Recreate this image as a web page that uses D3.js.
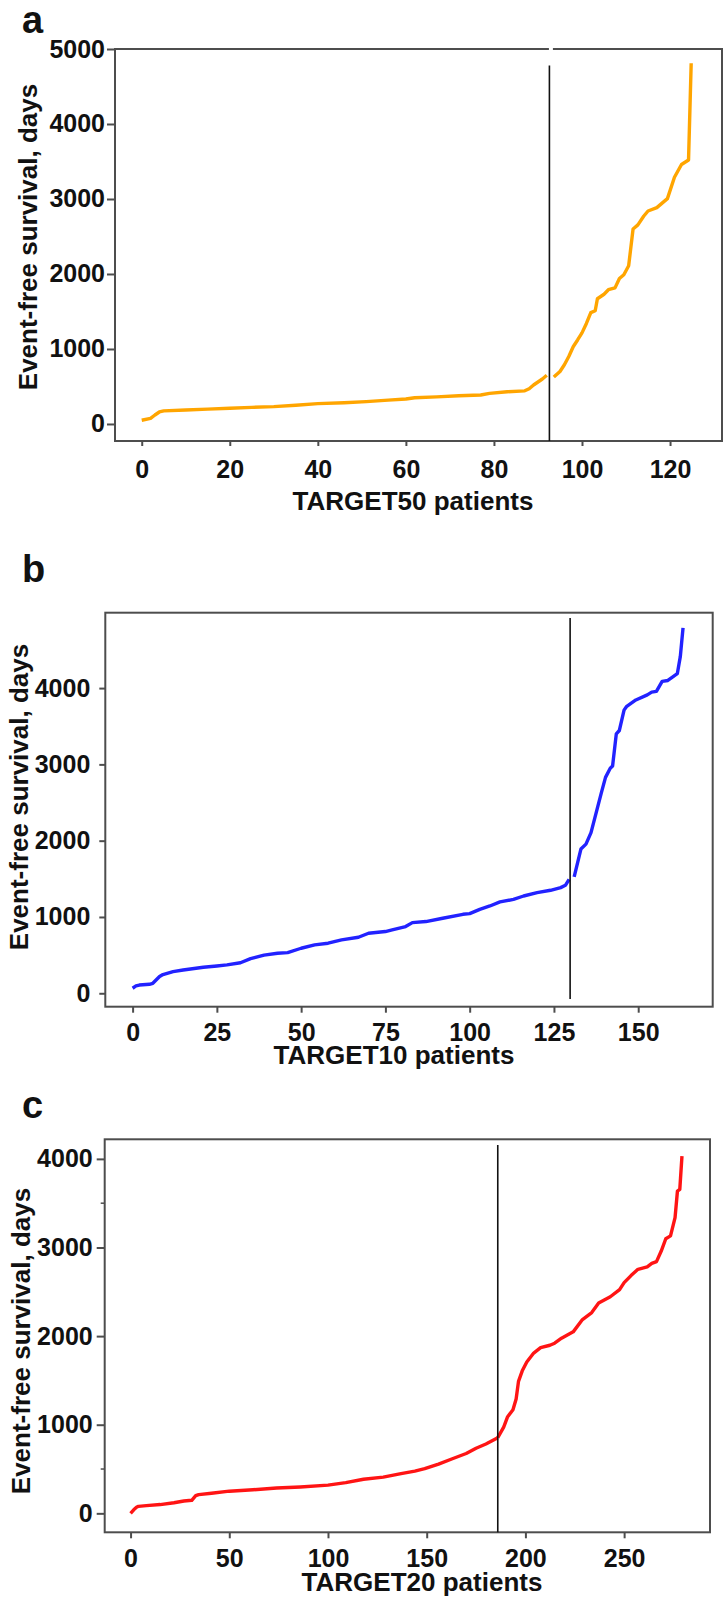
<!DOCTYPE html>
<html>
<head>
<meta charset="utf-8">
<script src="https://cdn.jsdelivr.net/npm/d3@7"></script>
<style>
    body { margin: 0; background: #fff; }
    svg text { font-family: "Liberation Sans", Arial, sans-serif; font-weight: bold; fill: #111; }
</style>
</head>
<body>
<svg id="figure" width="725" height="1603"></svg>
<script>
(function () {
    'use strict';

    // sorted event-free survival per cohort, [patient rank, days]
    // low = below the cut, high = above it
    const target50Low = [[0, 50], [2, 75], [3, 120], [4, 160], [5, 175], [10, 187], [15, 198], [20, 210],
        [25, 222], [30, 232], [35, 250], [40, 272], [46, 284], [51, 298], [56, 318], [60, 333], [62, 350],
        [67, 362], [72, 376], [77, 387], [79, 408], [83, 430], [87, 442], [88, 470], [89, 520], [90, 560],
        [91, 600], [92, 650]];
    const target50High = [[93.6, 625], [95, 700], [96, 790], [97, 900], [98, 1030], [99, 1120], [100, 1215],
        [101, 1340], [102, 1485], [103, 1510], [103.5, 1670], [105, 1730], [106, 1790], [107.5, 1815],
        [108.5, 1940], [109.5, 1990], [110.6, 2110], [111.6, 2600], [112.7, 2655], [114, 2770], [115, 2840],
        [117, 2885], [119.4, 3005], [121, 3290], [122.6, 3460], [124.2, 3520], [124.8, 4810]];

    const target10Low = [[0, 66], [1, 96], [2, 108], [5, 118], [6, 131], [8, 219], [9, 245], [12, 284],
        [15, 305], [21, 341], [25, 358], [28, 372], [32, 400], [35, 455], [39, 500], [43, 525], [46, 533],
        [50, 590], [54, 634], [58, 656], [62, 700], [67, 734], [70, 787], [75, 809], [77, 830], [81, 874],
        [83, 926], [87, 940], [92, 983], [98, 1035], [100, 1044], [103, 1100], [106, 1144], [109, 1197],
        [113, 1231], [116, 1275], [120, 1319], [124, 1350], [127, 1385], [128.4, 1415], [129.5, 1494]];
    const target10High = [[131, 1525], [133, 1890], [134.5, 1955], [136, 2105], [138, 2447], [139, 2617],
        [140.3, 2830], [141.7, 2949], [142.4, 2979], [143.5, 3400], [144.4, 3444], [145.8, 3711],
        [146.5, 3756], [149.3, 3844], [152.7, 3911], [154, 3947], [155.4, 3956], [157.1, 4088],
        [158.8, 4100], [161.6, 4188], [162.5, 4416], [163.3, 4788]];

    const target20Low = [[0, 0], [1.6, 40], [3, 68], [4, 79], [8, 87], [15, 99], [22, 119], [27, 139],
        [31, 147], [33, 199], [34.5, 211], [41, 226], [50, 250], [62, 266], [74, 286], [86, 298], [100, 318],
        [109, 346], [118, 385], [128, 409], [137, 449], [144, 477], [149, 504], [156, 556], [163, 616],
        [170, 675], [175, 735], [180, 783], [186, 854]];
    const target20High = [[186, 854], [189, 972], [191, 1091], [193.7, 1170], [195.3, 1290], [196.5, 1489],
        [198.4, 1608], [200.7, 1708], [204.2, 1809], [207.7, 1869], [212.4, 1897], [214.8, 1920],
        [218.3, 1976], [224.2, 2048], [228.9, 2187], [233.6, 2266], [237.1, 2373], [243, 2444],
        [247.7, 2524], [250, 2603], [253.5, 2683], [257, 2754], [261.7, 2782], [264, 2821], [266.4, 2841],
        [268.8, 2960], [271.1, 3099], [273.5, 3131], [275.8, 3337], [277, 3635], [278.2, 3655], [279.3, 4032]];

    // cut positions (patient rank) and axis ticks
    const cutoffs = { a: 92.6, b: 129.8, c: 186 };
    const xTicksA = [0, 20, 40, 60, 80, 100, 120];
    const xTicksB = [0, 25, 50, 75, 100, 125, 150];
    const xTicksC = [0, 50, 100, 150, 200, 250];
    const yTicksA = [0, 1000, 2000, 3000, 4000, 5000];
    const yTicksB = [0, 1000, 2000, 3000, 4000];
    const yTicksC = [0, 1000, 2000, 3000, 4000];
    const yMinorC = [500, 3500];

    const panels = [
        {
            label: 'a', title: 'TARGET50 patients', color: '#ffa500',
            low: target50Low, high: target50High, cut: cutoffs.a, cutTop: 4780, cutBottom: null, gapTop: true,
            xTicks: xTicksA, yTicks: yTicksA, yMinor: [],
            box: { left: 115, top: 49, right: 722, bottom: 441 },
            xDomain: [-6.07, 131.8], yDomain: [-227, 5000],
            xTickLen: 5, xTickPad: 14, yTickLen: 8, yTickPad: 2,
            labelY: 33, titleX: 413, titleY: 510, yTitleX: 37, yTitleY: 237
        },
        {
            label: 'b', title: 'TARGET10 patients', color: '#2222ff',
            low: target10Low, high: target10High, cut: cutoffs.b, cutTop: 4920, cutBottom: -75, gapTop: false,
            xTicks: xTicksB, yTicks: yTicksB, yMinor: [],
            box: { left: 105.3, top: 612.7, right: 712.7, bottom: 1006.7 },
            xDomain: [-8.1, 172.1], yDomain: [-176, 4988],
            xTickLen: 6, xTickPad: 11, yTickLen: 6, yTickPad: 9,
            labelY: 582, titleX: 394, titleY: 1064, yTitleX: 28, yTitleY: 797
        },
        {
            label: 'c', title: 'TARGET20 patients', color: '#ff1414',
            low: target20Low, high: target20High, cut: cutoffs.c, cutTop: 4157, cutBottom: null, gapTop: false,
            xTicks: xTicksC, yTicks: yTicksC, yMinor: yMinorC,
            box: { left: 104.7, top: 1139.3, right: 710, bottom: 1532.3 },
            xDomain: [-13.1, 293.5], yDomain: [-214, 4221],
            xTickLen: 6, xTickPad: 11, yTickLen: 8, yTickPad: 4,
            labelY: 1118, titleX: 422, titleY: 1591, yTitleX: 30, yTitleY: 1341
        }
    ];

    const axisColor = '#4d4d4d';
    let svg = d3.select('#figure');

    panels.forEach(function (p) {
        let b = p.box;
        let x = d3.scaleLinear().domain(p.xDomain).range([b.left, b.right]);
        let y = d3.scaleLinear().domain(p.yDomain).range([b.bottom, b.top]);
        let g = svg.append('g');

        // panel letter
        g.append('text')
            .attr('x', 22).attr('y', p.labelY)
            .attr('font-size', 38)
            .text(p.label);

        let xAxis = d3.axisBottom(x)
            .tickValues(p.xTicks)
            .tickSize(p.xTickLen)
            .tickPadding(p.xTickPad)
            .tickFormat(d3.format('d'));
        let gx = g.append('g')
            .attr('transform', 'translate(0,' + b.bottom + ')')
            .call(xAxis);

        let yAxis = d3.axisLeft(y)
            .tickValues(p.yTicks)
            .tickSize(p.yTickLen)
            .tickPadding(p.yTickPad)
            .tickFormat(d3.format('d'));
        let gy = g.append('g')
            .attr('transform', 'translate(' + b.left + ',0)')
            .call(yAxis);

        [gx, gy].forEach(function (ax) {
            ax.select('.domain').remove();
            ax.attr('font-size', 25).attr('font-family', null);
            ax.selectAll('line').attr('stroke', axisColor).attr('stroke-width', 2);
            ax.selectAll('text').attr('fill', '#111');
        });

        g.selectAll('.minor')
            .data(p.yMinor)
            .enter().append('line')
            .attr('x1', b.left - 4).attr('x2', b.left)
            .attr('y1', function (d) { return y(d); })
            .attr('y2', function (d) { return y(d); })
            .attr('stroke', axisColor).attr('stroke-width', 1.5);

        g.append('rect')
            .attr('x', b.left).attr('y', b.top)
            .attr('width', b.right - b.left).attr('height', b.bottom - b.top)
            .attr('fill', 'none')
            .attr('stroke', axisColor).attr('stroke-width', 2);

        let line = d3.line()
            .x(function (d) { return x(d[0]); })
            .y(function (d) { return y(d[1]); });
        g.selectAll('.curve')
            .data([p.low, p.high])
            .enter().append('path')
            .attr('class', 'curve')
            .attr('d', line)
            .attr('fill', 'none')
            .attr('stroke', p.color)
            .attr('stroke-width', 3.4)
            .attr('stroke-linejoin', 'round');

        if (p.gapTop) {
            g.append('line')
                .attr('x1', x(p.cut) + 1.5).attr('x2', x(p.cut) + 1.5)
                .attr('y1', b.top - 3).attr('y2', b.top + 3)
                .attr('stroke', '#fff').attr('stroke-width', 4);
        }

        let cutBottom = p.cutBottom === null ? b.bottom : y(p.cutBottom);
        g.append('line')
            .attr('x1', x(p.cut)).attr('x2', x(p.cut))
            .attr('y1', y(p.cutTop)).attr('y2', cutBottom)
            .attr('stroke', '#111').attr('stroke-width', 1.6);

        g.append('text')
            .attr('x', p.titleX).attr('y', p.titleY)
            .attr('text-anchor', 'middle')
            .attr('font-size', 26)
            .text(p.title);

        g.append('text')
            .attr('transform', 'translate(' + p.yTitleX + ',' + p.yTitleY + ') rotate(-90)')
            .attr('text-anchor', 'middle')
            .attr('font-size', 26)
            .text('Event-free survival, days');
    });
})();
</script>
</body>
</html>
